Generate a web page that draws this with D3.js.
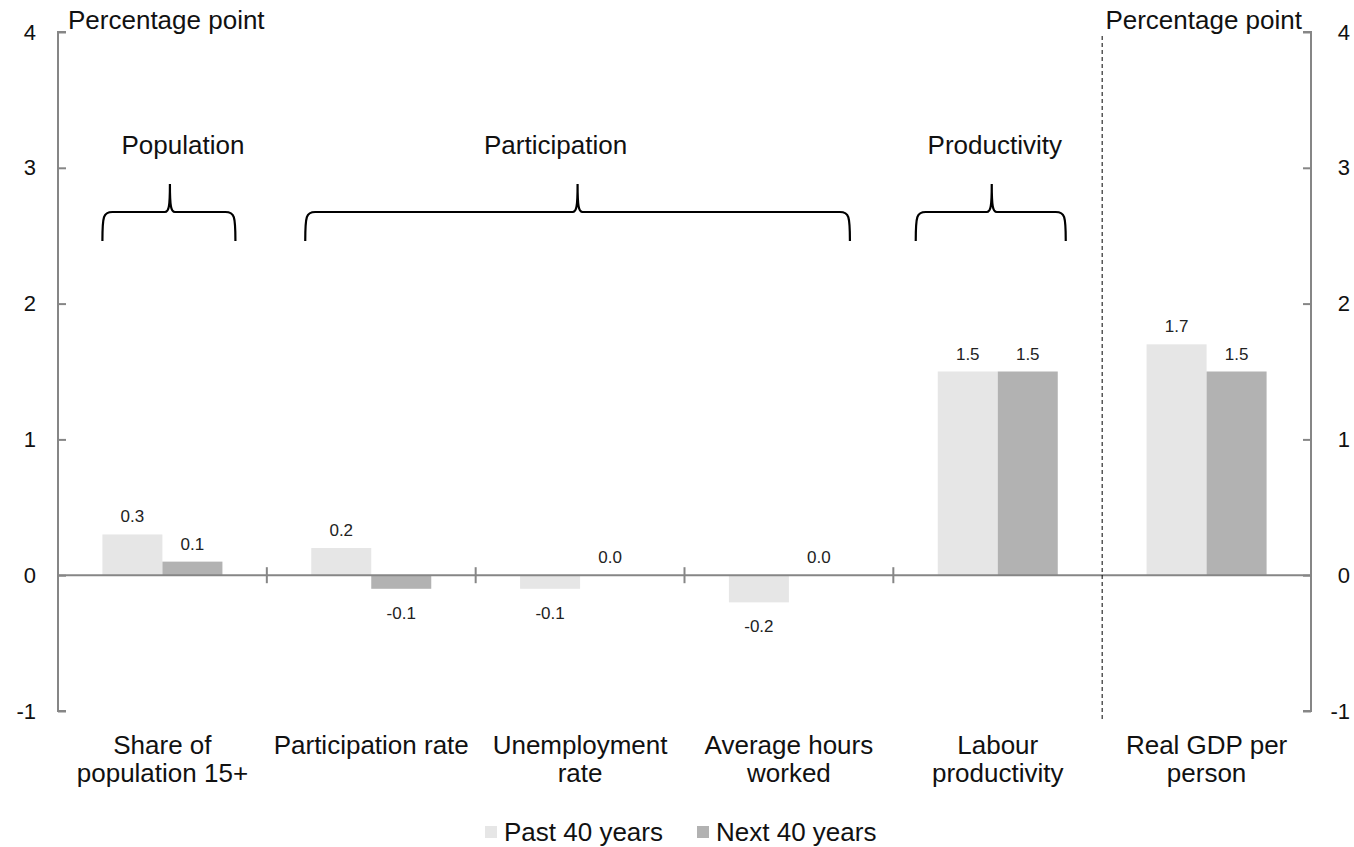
<!DOCTYPE html>
<html>
<head>
<meta charset="utf-8">
<script src="https://cdn.jsdelivr.net/npm/d3@7"></script>
<style>
  html, body { margin: 0; padding: 0; background: #fff; }
  text { font-family: "Liberation Sans", Arial, sans-serif; }
</style>
</head>
<body>
<svg id="chart" width="1354" height="847"></svg>
<script>
const categories = [
  ["Share of", "population 15+"],
  ["Participation rate"],
  ["Unemployment", "rate"],
  ["Average hours", "worked"],
  ["Labour", "productivity"],
  ["Real GDP per", "person"]
];
const seriesNames = ["Past 40 years", "Next 40 years"];
const past40 = [0.3, 0.2, -0.1, -0.2, 1.5, 1.7];
const next40 = [0.1, -0.1, 0.0, 0.0, 1.5, 1.5];
const yTicks = [-1, 0, 1, 2, 3, 4];
const groupLabels = ["Population", "Participation", "Productivity"];
const groupFrom = [0, 1, 4];
const groupTo = [0, 3, 4];
const axisTitle = "Percentage point";

(function () {
const colors = ["#e6e6e6", "#b2b2b2"];
const axisColor = "#868686";
const textColor = "#111";
const bigFont = 26;
// brace style tweaks (left pad, right pad, peak shift, label shift)
const braceStyle = [
  { lp: 0, rp: 13, peak: 1, lab: 13 },
  { lp: 6, rp: 1, peak: 0, lab: -22 },
  { lp: 22, rp: 8, peak: 1, lab: 3 }
];

const svg = d3.select("#chart");
const mLeft = 58, mRight = 1311, mTop = 32, mBottom = 711;

const y = d3.scaleLinear().domain([-1, 4]).range([mBottom, mTop]);
const x = d3.scaleBand().domain(d3.range(categories.length)).range([mLeft, mRight]).paddingInner(0).paddingOuter(0);
const inner = d3.scaleBand().domain([0, 1]).range([0, x.bandwidth()]).paddingInner(0).paddingOuter(0.74);

const data = categories.map((c, i) => ({ i, vals: [past40[i], next40[i]] }));

// Bars
const g = svg.append("g");
data.forEach(d => {
  d.vals.forEach((v, s) => {
    const bx = x(d.i) + inner(s);
    g.append("rect")
      .attr("x", bx)
      .attr("y", y(Math.max(0, v)))
      .attr("width", inner.bandwidth())
      .attr("height", Math.abs(y(v) - y(0)))
      .attr("fill", colors[s]);
    const ty = v >= 0 ? y(v) - 12 : y(v) + 30;
    g.append("text")
      .attr("x", bx + inner.bandwidth() / 2)
      .attr("y", ty)
      .attr("text-anchor", "middle")
      .attr("font-size", 17)
      .attr("fill", "#222")
      .text(d3.format(".1f")(v).replace("−", "-"));
  });
});

// Zero line
svg.append("line")
  .attr("x1", mLeft).attr("x2", mRight)
  .attr("y1", y(0)).attr("y2", y(0))
  .attr("stroke", axisColor).attr("stroke-width", 2);

// Category tick marks crossing zero line
d3.range(1, categories.length - 1).forEach(k => {
  const cx = x(k);
  svg.append("line")
    .attr("x1", cx).attr("x2", cx)
    .attr("y1", y(0) - 8).attr("y2", y(0) + 8)
    .attr("stroke", axisColor).attr("stroke-width", 2);
});

// Dashed separator
svg.append("line")
  .attr("x1", x(5)).attr("x2", x(5))
  .attr("y1", 36).attr("y2", 720)
  .attr("stroke", "#000").attr("stroke-width", 1)
  .attr("stroke-dasharray", "4,3");

const fmt = d => d3.format("d")(d).replace("−", "-");

// Left axis
const la = svg.append("g").attr("transform", `translate(${mLeft},0)`)
  .call(d3.axisRight(y).tickValues(yTicks).tickSize(8).tickFormat(fmt));
la.select(".domain").attr("stroke", axisColor).attr("stroke-width", 2).attr("d", `M8,${y(4)}H0V${y(-1)}H8`);
la.selectAll(".tick line").attr("stroke", axisColor).attr("stroke-width", 2);
la.selectAll(".tick text").attr("x", -22).attr("text-anchor", "end").attr("font-size", 22)
  .attr("fill", textColor).attr("font-family", "Liberation Sans, Arial, sans-serif");

// Right axis
const ra = svg.append("g").attr("transform", `translate(${mRight},0)`)
  .call(d3.axisLeft(y).tickValues(yTicks).tickSize(8).tickFormat(fmt));
ra.select(".domain").attr("stroke", axisColor).attr("stroke-width", 2).attr("d", `M-8,${y(4)}H0V${y(-1)}H-8`);
ra.selectAll(".tick line").attr("stroke", axisColor).attr("stroke-width", 2);
ra.selectAll(".tick text").attr("x", 39).attr("text-anchor", "end").attr("font-size", 22)
  .attr("fill", textColor).attr("font-family", "Liberation Sans, Arial, sans-serif");

// Axis titles
svg.append("text").attr("x", 68).attr("y", 29).attr("font-size", bigFont).attr("fill", textColor).text(axisTitle);
svg.append("text").attr("x", 1302).attr("y", 29).attr("font-size", bigFont).attr("fill", textColor)
  .attr("text-anchor", "end").text(axisTitle);

// Category labels
categories.forEach((lines, i) => {
  const cx = x(i) + x.bandwidth() / 2;
  const t = svg.append("text")
    .attr("x", cx)
    .attr("y", 754)
    .attr("text-anchor", "middle")
    .attr("font-size", bigFont)
    .attr("fill", textColor);
  lines.forEach((ln, j) => {
    t.append("tspan").attr("x", cx).attr("dy", j === 0 ? 0 : 28).text(ln);
  });
});

// Braces
function bracePath(x0, x1, xm, yTop, yMid, yBot) {
  const r = 10;
  return `M${x0},${yBot} C${x0},${yMid + 4} ${x0 + 1},${yMid} ${x0 + r},${yMid} ` +
         `L${xm - 5},${yMid} C${xm - 1},${yMid} ${xm},${yMid - 6} ${xm},${yTop} ` +
         `C${xm},${yMid - 6} ${xm + 1},${yMid} ${xm + 5},${yMid} ` +
         `L${x1 - r},${yMid} C${x1 - 1},${yMid} ${x1},${yMid + 4} ${x1},${yBot}`;
}
groupLabels.forEach((label, k) => {
  const st = braceStyle[k];
  const x0 = x(groupFrom[k]) + inner(0) - st.lp;
  const x1 = x(groupTo[k]) + inner(1) + inner.bandwidth() + st.rp;
  const xm = (x0 + x1) / 2 + st.peak;
  svg.append("path")
    .attr("d", bracePath(x0, x1, xm, 184, 212, 241))
    .attr("fill", "none").attr("stroke", "#000").attr("stroke-width", 2.2);
  svg.append("text")
    .attr("x", xm + st.lab)
    .attr("y", 154)
    .attr("text-anchor", "middle")
    .attr("font-size", bigFont)
    .attr("fill", textColor)
    .text(label);
});

// Legend
const legendX = [485, 697];
seriesNames.forEach((name, s) => {
  svg.append("rect").attr("x", legendX[s]).attr("y", 826).attr("width", 12).attr("height", 12).attr("fill", colors[s]);
  svg.append("text").attr("x", legendX[s] + 19).attr("y", 841).attr("font-size", bigFont).attr("fill", textColor).text(name);
});
})();
</script>
</body>
</html>
